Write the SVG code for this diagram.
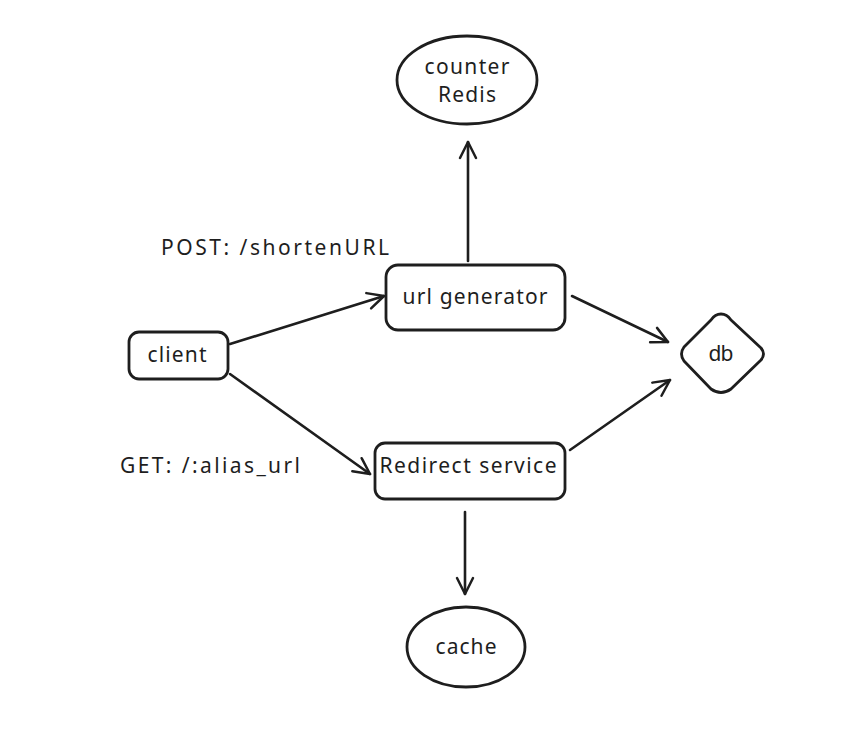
<svg xmlns="http://www.w3.org/2000/svg" width="844" height="739" viewBox="0 0 844 739">
<defs>
<marker id="ah" viewBox="0 0 20 20" refX="18" refY="10" markerWidth="20" markerHeight="20" markerUnits="userSpaceOnUse" orient="auto">
<path d="M2 2 L18 10 L2 18" fill="none" stroke="#1e1e1e" stroke-width="2.5" stroke-linecap="round" stroke-linejoin="round"/>
</marker>
</defs>
<style>
.s{fill:none;stroke:#1e1e1e;stroke-width:2.8;stroke-linecap:round;stroke-linejoin:round}
.t{font-family:"Noto Sans","Liberation Sans",sans-serif;font-size:21px;fill:#1e1e1e;text-anchor:middle}
.l{font-family:"Noto Sans","Liberation Sans",sans-serif;font-size:21px;fill:#1e1e1e}
.c{fill:none;stroke:#1e1e1e;stroke-width:2.6;stroke-linecap:round;marker-end:url(#ah)}
</style>
<rect width="844" height="739" fill="#ffffff"/>
<g id="connectors">
<line class="c" x1="468" y1="261" x2="468" y2="142"/>
<line class="c" x1="230" y1="344" x2="384" y2="296"/>
<line class="c" x1="230" y1="374" x2="370" y2="474"/>
<line class="c" x1="572" y1="296" x2="668" y2="342"/>
<line class="c" x1="570" y1="450" x2="670" y2="380"/>
<line class="c" x1="465" y1="512" x2="465" y2="594"/>
</g>
<g id="counter">
<ellipse class="s" cx="467" cy="80" rx="70" ry="44"/>
<text class="t" x="467" y="74" textLength="85" lengthAdjust="spacing">counter</text>
<text class="t" x="467" y="102" textLength="58" lengthAdjust="spacing">Redis</text>
</g>
<g id="urlgen">
<rect class="s" x="386" y="265" width="179" height="65" rx="12"/>
<text class="t" x="475" y="304" textLength="145" lengthAdjust="spacing">url generator</text>
</g>
<g id="client">
<rect class="s" x="129" y="332" width="99" height="47" rx="10"/>
<text class="t" x="177" y="362" textLength="59" lengthAdjust="spacing">client</text>
</g>
<g id="db">
<path class="s" d="M721 314 Q727 314 731 320 L761 348 Q766 354 761 360 L731 389 Q721 396 711 389 L684 361 Q679 354 684 347 L711 320 Q715 314 721 314 Z"/>
<text class="t" x="721" y="361" textLength="25" lengthAdjust="spacing">db</text>
</g>
<g id="redirect">
<rect class="s" x="375" y="443" width="190" height="56" rx="10"/>
<text class="t" x="468" y="473" textLength="177" lengthAdjust="spacing">Redirect service</text>
</g>
<g id="cache">
<ellipse class="s" cx="466" cy="647" rx="59" ry="40"/>
<text class="t" x="466" y="654" textLength="61" lengthAdjust="spacing">cache</text>
</g>
<g id="labels">
<text class="l" x="161" y="255" textLength="228" lengthAdjust="spacing">POST: /shortenURL</text>
<text class="l" x="120" y="473" textLength="180" lengthAdjust="spacing">GET: /:alias_url</text>
</g>
</svg>
